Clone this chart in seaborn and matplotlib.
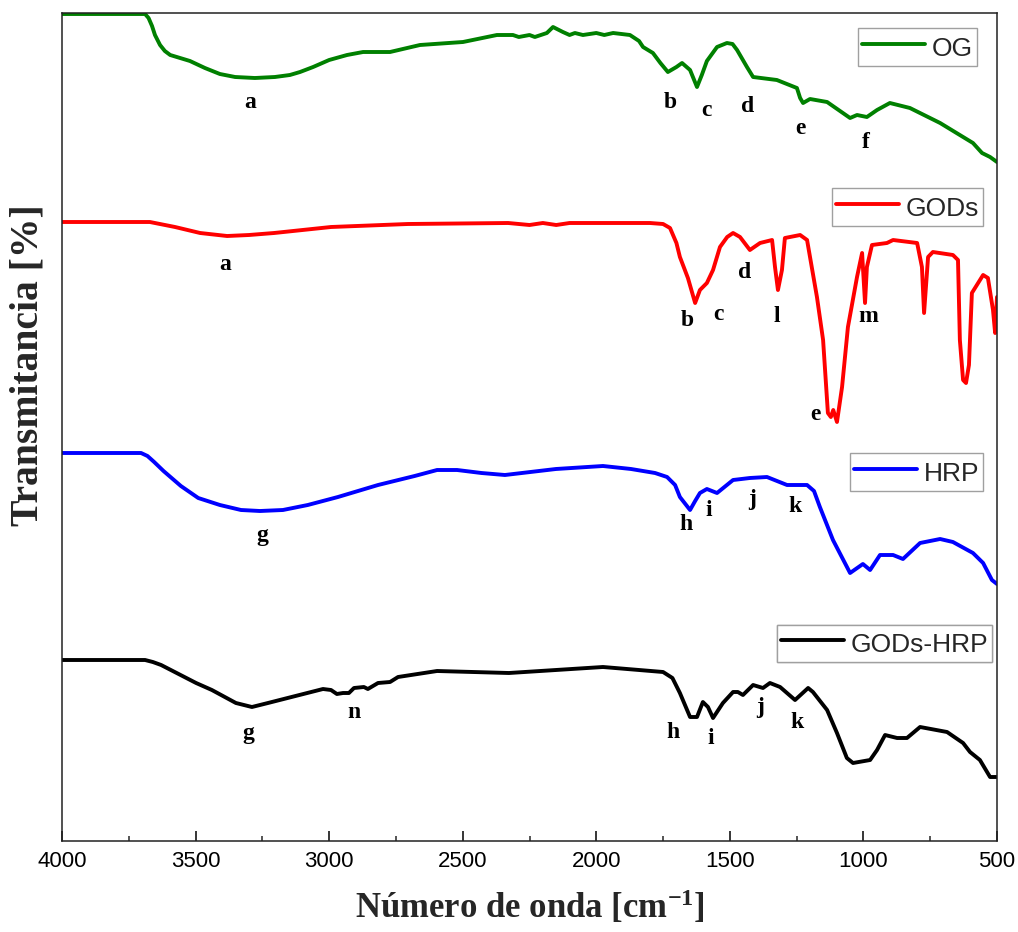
import matplotlib
matplotlib.use("Agg")
import matplotlib.pyplot as plt
import seaborn as sns
from matplotlib.lines import Line2D

# FTIR spectra: wavenumber (cm-1) and transmittance (a.u., each sample vertically offset)
og_wn = [4000, 3689, 3676, 3663, 3652, 3633, 3615, 3595, 3558, 3521, 3465, 3409, 3352, 3278,
         3203, 3147, 3109, 3060, 3000, 2933, 2873, 2772, 2660, 2499, 2372, 2312, 2290, 2250,
         2230, 2185, 2162, 2125, 2100, 2080, 2050, 2000, 1970, 1937, 1874, 1840, 1825, 1788,
         1760, 1732, 1700, 1679, 1649, 1623, 1605, 1586, 1548, 1511, 1490, 1473, 1436, 1413,
         1324, 1249, 1237, 1226, 1200, 1136, 1050, 1024, 987, 949, 901, 826, 713, 590, 556,
         526, 500]
og_t = [827, 827, 823, 815, 806, 796, 790, 786, 783, 780, 773, 767, 764, 763,
        764, 766, 769, 774, 781, 786, 789, 789, 796, 799, 806, 806, 804, 806,
        804, 808, 814, 809, 806, 808, 806, 808, 806, 808, 806, 800, 794, 788,
        778, 769, 774, 778, 771, 754, 766, 780, 794, 798, 797, 791, 774, 764,
        761, 753, 743, 738, 742, 739, 723, 726, 724, 731, 738, 733, 718, 698, 688,
        684, 679]

gods_wn = [4000, 3671, 3577, 3483, 3382, 3300, 3206, 2993, 2705, 2330, 2250, 2200, 2150, 2100,
           1986, 1799, 1750, 1724, 1700, 1687, 1657, 1630, 1612, 1586, 1563, 1537, 1510, 1488,
           1462, 1425, 1387, 1342, 1331, 1320, 1305, 1294, 1237, 1211, 1174, 1151, 1133, 1122,
           1113, 1099, 1080, 1058, 1024, 1005, 994, 987, 968, 912, 889, 799, 781, 773, 758,
           740, 665, 646, 639, 627, 616, 605, 594, 552, 534, 515, 507, 500]
gods_t = [619, 619, 614, 608, 605, 606, 608, 614, 617, 618, 616, 618, 616, 618,
          618, 618, 617, 613, 598, 584, 563, 538, 551, 558, 571, 594, 604, 608,
          604, 591, 598, 601, 574, 551, 571, 603, 606, 601, 544, 501, 428, 424,
          431, 419, 454, 514, 564, 588, 538, 574, 596, 598, 601, 598, 574, 528, 584,
          589, 586, 581, 501, 461, 458, 476, 548, 566, 563, 531, 508, 544]

hrp_wn = [4000, 3704, 3680, 3655, 3620, 3555, 3490, 3409, 3330, 3259, 3173, 3080, 2967, 2817,
          2680, 2596, 2521, 2430, 2342, 2151, 1975, 1870, 1780, 1735, 1705, 1687, 1649, 1630,
          1612, 1586, 1548, 1488, 1425, 1361, 1286, 1211, 1185, 1163, 1114, 1050, 1002, 975,
          938, 889, 852, 788, 713, 665, 590, 552, 519, 500]
hrp_t = [388, 388, 385, 379, 370, 355, 343, 336, 331, 330, 331, 336, 344, 356,
         365, 371, 371, 368, 366, 372, 375, 372, 368, 364, 356, 344, 331, 340,
         348, 352, 348, 361, 363, 364, 356, 356, 350, 334, 301, 268, 277, 271,
         286, 286, 282, 298, 302, 299, 288, 278, 261, 257]

godshrp_wn = [4000, 3689, 3660, 3629, 3498, 3439, 3349, 3289, 3229, 3023, 2993, 2971, 2948, 2926,
              2907, 2870, 2855, 2817, 2772, 2742, 2596, 2327, 2151, 1975, 1750, 1715, 1687, 1649,
              1623, 1601, 1582, 1563, 1526, 1488, 1470, 1451, 1413, 1376, 1350, 1312, 1256, 1207,
              1189, 1136, 1099, 1062, 1039, 975, 949, 919, 874, 837, 788, 687, 627, 601, 564,
              526, 500]
godshrp_t = [181, 181, 179, 176, 158, 151, 138, 134, 138, 152, 151, 147, 148, 148,
             153, 154, 152, 158, 159, 164, 170, 168, 171, 174, 169, 163, 148, 124,
             124, 139, 134, 123, 138, 149, 149, 146, 156, 153, 158, 154, 141, 153,
             149, 131, 108, 83, 78, 81, 91, 106, 103, 103, 114, 109, 98, 89, 81,
             64, 64]

series_names = ["OG", "GODs", "HRP", "GODs-HRP"]
series_colors = ["#008000", "#ff0000", "#0000ff", "#000000"]

# Band assignments written next to each spectrum: letter, wavenumber, transmittance
og_bands = [("a", 3296, 738), ("b", 1724, 738), ("c", 1586, 731), ("d", 1432, 735),
            ("e", 1237, 713), ("f", 990, 699)]
gods_bands = [("a", 3390, 576), ("b", 1660, 521), ("c", 1544, 526), ("d", 1443, 569),
              ("l", 1324, 524), ("e", 1181, 426), ("m", 983, 524)]
hrp_bands = [("g", 3251, 306), ("h", 1664, 317), ("i", 1578, 331), ("j", 1417, 342),
             ("k", 1256, 334)]
godshrp_bands = [("g", 3304, 108), ("n", 2907, 129), ("h", 1713, 108), ("i", 1571, 103),
                 ("j", 1387, 133), ("k", 1249, 118)]

x_major = [4000, 3500, 3000, 2500, 2000, 1500, 1000, 500]
x_minor = [3750, 3250, 2750, 2250, 1750, 1250, 750]

sns.set_theme(style="ticks")
plt.rcParams["font.family"] = ["Liberation Sans", "DejaVu Sans"]
plt.rcParams["mathtext.fontset"] = "custom"
plt.rcParams["mathtext.rm"] = "Liberation Serif:bold"
plt.rcParams["mathtext.bf"] = "Liberation Serif:bold"
plt.rcParams["mathtext.it"] = "Liberation Serif:bold"

fig = plt.figure(figsize=(10.18, 9.32), dpi=100)
ax = fig.add_axes([62 / 1018, 91 / 932, 935 / 1018, 828 / 932])

spectra = [(og_wn, og_t), (gods_wn, gods_t), (hrp_wn, hrp_t), (godshrp_wn, godshrp_t)]
bands = [og_bands, gods_bands, hrp_bands, godshrp_bands]
lw = 2.8

for (wn, t), name, color in zip(spectra, series_names, series_colors):
    sns.lineplot(x=wn, y=t, ax=ax, color=color, lw=lw, sort=False, estimator=None,
                 legend=False, solid_joinstyle="round", solid_capstyle="round")

serif_bold = dict(family="Liberation Serif", fontweight="bold", fontsize=17,
                  ha="center", va="center", color="black")
for band_list in bands:
    for letter, wn, t in band_list:
        ax.text(wn, t, letter, **serif_bold)

ax.set_xlim(4000, 500)
ax.set_ylim(0, 828)
ax.set_xticks(x_major)
ax.set_xticks(x_minor, minor=True)
ax.set_yticks([])
ax.tick_params(axis="x", which="major", direction="in", length=7, width=1.1,
               labelsize=16, pad=7, colors="black")
ax.tick_params(axis="x", which="minor", direction="in", length=3.6, width=1.1)
for sp in ax.spines.values():
    sp.set_visible(True)
    sp.set_linewidth(1.1)
    sp.set_color("#222222")

ax.set_xlabel("Número de onda [cm$^{\\mathbf{-1}}$]", family="Liberation Serif",
              fontweight="bold", fontsize=25, labelpad=12)
ax.set_ylabel("Transmitancia [%]", family="Liberation Serif", fontweight="bold",
              fontsize=28.5)
ax.yaxis.set_label_coords(-0.017, 0.575)

# One framed legend next to each spectrum
legend_anchors = [(0.9786, 0.9819), (0.985, 0.7884), (0.985, 0.468), (0.9947, 0.2612)]
for name, color, anchor in zip(series_names, series_colors, legend_anchors):
    handle = Line2D([], [], color=color, lw=lw)
    leg = ax.legend([handle], [name], loc="upper right", bbox_to_anchor=anchor,
                    bbox_transform=ax.transAxes, borderaxespad=0, fontsize=19,
                    handlelength=2.4, handletextpad=0.25, borderpad=0.15,
                    handleheight=1.35, fancybox=False, framealpha=1, edgecolor="#a0a0a0")
    leg.get_frame().set_linewidth(1.0)
    ax.add_artist(leg)

fig.savefig("out.png", dpi=100)
